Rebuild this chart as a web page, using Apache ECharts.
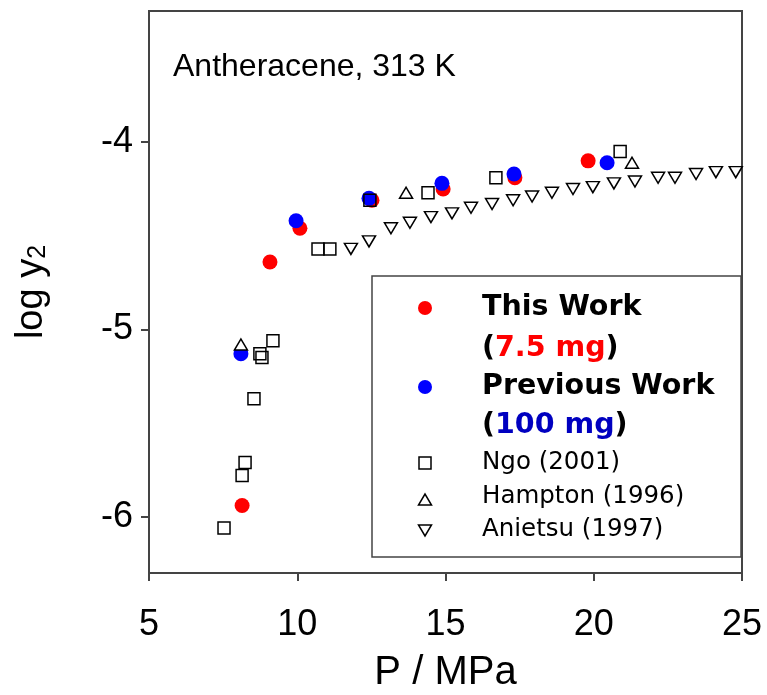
<!DOCTYPE html>
<html>
<head>
<meta charset="utf-8">
<script src="https://cdn.jsdelivr.net/npm/echarts@6/dist/echarts.min.js"></script>
<style>
  html, body { margin: 0; padding: 0; background: #fff; }
  #chart { width: 767px; height: 695px; }
</style>
</head>
<body>
<div id="chart"></div>
<script>
// dados
const thisWorkP = [8.14, 9.08, 10.09, 12.52, 14.92, 17.34, 19.81];
const thisWorkY = [-5.94, -4.64, -4.46, -4.31, -4.25, -4.19, -4.10];

const prevWorkP = [8.10, 9.96, 12.42, 14.88, 17.31, 20.45];
const prevWorkY = [-5.13, -4.42, -4.30, -4.22, -4.17, -4.11];

const ngoP = [7.53, 8.14, 8.24, 8.54, 8.74, 8.81, 9.18, 10.70, 11.10, 12.45, 14.41, 16.70, 20.89];
const ngoY = [-6.06, -5.78, -5.71, -5.37, -5.13, -5.15, -5.06, -4.57, -4.57, -4.31, -4.27, -4.19, -4.05];

const hamptonP = [8.10, 13.67, 21.29];
const hamptonY = [-5.08, -4.27, -4.11];

const anietsuP = [11.81, 12.42, 13.16, 13.80, 14.51, 15.22, 15.86, 16.57, 17.28, 17.92,
  18.59, 19.30, 19.97, 20.68, 21.39, 22.17, 22.74, 23.45, 24.12, 24.79];
const anietsuY = [-4.57, -4.53, -4.46, -4.43, -4.40, -4.38, -4.35, -4.33, -4.31, -4.29,
  -4.27, -4.25, -4.24, -4.22, -4.21, -4.19, -4.19, -4.17, -4.16, -4.16];

const yTicks = [-6, -5, -4];

const pares = (xs, ys) => xs.map((x, i) => [x, ys[i]]);

const chart = echarts.init(document.getElementById('chart'));
const corEixo = '#444';
const fonte = '"Liberation Sans", Arial, sans-serif';
const fonteLeg = '"DejaVu Sans", sans-serif';

// legenda desenhada a mao
const lx = 425;
const tx = 482;
const legenda = [
  { type: 'rect', shape: { x: 372, y: 276, width: 369, height: 281 },
    style: { fill: '#fff', stroke: corEixo, lineWidth: 1.5 } },
  { type: 'circle', shape: { cx: lx, cy: 308, r: 7 }, style: { fill: '#ff0000' } },
  { type: 'circle', shape: { cx: lx, cy: 387, r: 7 }, style: { fill: '#0000ff' } },
  { type: 'rect', shape: { x: lx - 6, y: 457, width: 12, height: 12 },
    style: { fill: 'none', stroke: '#000', lineWidth: 1.5 } },
  { type: 'polygon', shape: { points: [[lx - 6.5, 505], [lx + 6.5, 505], [lx, 494]] },
    style: { fill: 'none', stroke: '#000', lineWidth: 1.5 } },
  { type: 'polygon', shape: { points: [[lx - 6.5, 525], [lx + 6.5, 525], [lx, 536]] },
    style: { fill: 'none', stroke: '#000', lineWidth: 1.5 } },
  { type: 'text', x: tx, y: 308, style: { text: 'This Work', font: 'bold 28.5px ' + fonteLeg,
    fill: '#000', verticalAlign: 'middle' } },
  { type: 'text', x: tx, y: 349, style: { text: '{b|(}{r|7.5 mg}{b|)}', verticalAlign: 'middle',
    rich: { b: { font: 'bold 28.5px ' + fonteLeg, fill: '#000' },
            r: { font: 'bold 28.5px ' + fonteLeg, fill: '#ff0000' } } } },
  { type: 'text', x: tx, y: 387, style: { text: 'Previous Work', font: 'bold 28.5px ' + fonteLeg,
    fill: '#000', verticalAlign: 'middle' } },
  { type: 'text', x: tx, y: 426, style: { text: '{b|(}{r|100 mg}{b|)}', verticalAlign: 'middle',
    rich: { b: { font: 'bold 28.5px ' + fonteLeg, fill: '#000' },
            r: { font: 'bold 28.5px ' + fonteLeg, fill: '#0000c0' } } } },
  { type: 'text', x: tx, y: 463, style: { text: 'Ngo (2001)', font: '24.5px ' + fonteLeg,
    fill: '#000', verticalAlign: 'middle' } },
  { type: 'text', x: tx, y: 497, style: { text: 'Hampton (1996)', font: '24.5px ' + fonteLeg,
    fill: '#000', verticalAlign: 'middle' } },
  { type: 'text', x: tx, y: 530, style: { text: 'Anietsu (1997)', font: '24.5px ' + fonteLeg,
    fill: '#000', verticalAlign: 'middle' } },
  { type: 'text', x: 173, y: 67, style: { text: 'Antheracene, 313 K', font: '32px ' + fonte,
    fill: '#000', verticalAlign: 'middle' } }
];

const option = {
  animation: false,
  grid: { left: 149, top: 11, right: 25, bottom: 122, show: true, outerBoundsMode: 'none',
    containLabel: false,
    borderColor: corEixo, borderWidth: 2, backgroundColor: 'transparent' },
  xAxis: {
    type: 'value', min: 5, max: 25, interval: 5,
    name: 'P / MPa', nameLocation: 'middle', nameGap: 80,
    nameTextStyle: { fontSize: 40, fontFamily: fonte, color: '#000' },
    axisLine: { show: true, lineStyle: { color: corEixo, width: 2 } },
    axisTick: { show: true, length: 8, lineStyle: { color: corEixo, width: 2 } },
    axisLabel: { fontSize: 36, fontFamily: fonte, color: '#000', margin: 34 },
    splitLine: { show: false }
  },
  yAxis: {
    type: 'value', min: -6.3, max: -3.3,
    name: '{a|log y}{s|2}', nameLocation: 'middle', nameGap: 98, nameRotate: 90,
    nameTextStyle: { color: '#000', rich: {
      a: { fontSize: 38, fontFamily: fonte, color: '#000', lineHeight: 40, verticalAlign: 'bottom' },
      s: { fontSize: 25, fontFamily: fonte, color: '#000', lineHeight: 25, verticalAlign: 'bottom' }
    } },
    axisLine: { show: true, lineStyle: { color: corEixo, width: 2 } },
    axisTick: { show: true, length: 8, customValues: yTicks, lineStyle: { color: corEixo, width: 2 } },
    axisLabel: { fontSize: 36, fontFamily: fonte, color: '#000', margin: 16, customValues: yTicks },
    splitLine: { show: false }
  },
  series: [
    { name: 'This Work', type: 'scatter', data: pares(thisWorkP, thisWorkY),
      symbol: 'circle', symbolSize: 15, itemStyle: { color: '#ff0000', opacity: 1 } },
    { name: 'Previous Work', type: 'scatter', data: pares(prevWorkP, prevWorkY),
      symbol: 'circle', symbolSize: 15, itemStyle: { color: '#0000ff', opacity: 1 } },
    { name: 'Ngo (2001)', type: 'scatter', data: pares(ngoP, ngoY),
      symbol: 'rect', symbolSize: 12,
      itemStyle: { color: 'transparent', borderColor: '#000', borderWidth: 1.5, opacity: 1 } },
    { name: 'Hampton (1996)', type: 'scatter', data: pares(hamptonP, hamptonY),
      symbol: 'triangle', symbolSize: [13, 11],
      itemStyle: { color: '#fff', borderColor: '#000', borderWidth: 1.5, opacity: 1 } },
    { name: 'Anietsu (1997)', type: 'scatter', data: pares(anietsuP, anietsuY),
      symbol: 'triangle', symbolRotate: 180, symbolSize: [13, 11],
      itemStyle: { color: '#fff', borderColor: '#000', borderWidth: 1.5, opacity: 1 } }
  ],
  graphic: legenda
};

chart.setOption(option);
</script>
</body>
</html>
